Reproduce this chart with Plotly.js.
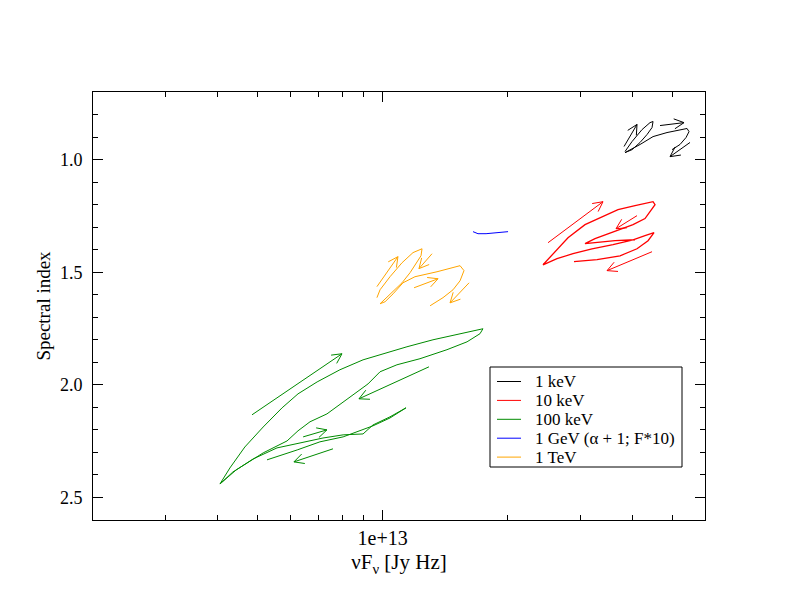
<!DOCTYPE html>
<html>
<head>
<meta charset="utf-8">
<script src="https://cdn.plot.ly/plotly-3.0.1.min.js"></script>
<style>html,body{margin:0;padding:0;background:#fff;}#chart{width:792px;height:612px;}</style>
</head>
<body>
<div id="chart"></div>
<script>
// Flux values in units of 1e12 Jy Hz, spectral index on y
const FLUX_UNIT = 1e12;

const seriesNames = ["1 keV", "10 keV", "100 keV", "1 GeV (\u03b1 + 1; F*10)", "1 TeV"];
const seriesColors = ["#000000", "#ff0000", "#008b00", "#0000ff", "#ffa500"];

const keV1_flux  = [38.47,40.00,42.28,44.20,44.95,44.70,43.47,41.82,40.00,38.47,41.82,44.95,48.58,52.22,54.30,54.90,54.00,52.22,49.95];
const keV1_index = [0.964,0.920,0.867,0.836,0.831,0.858,0.889,0.924,0.956,0.969,0.933,0.898,0.880,0.867,0.862,0.876,0.902,0.933,0.956];

const keV10_flux  = [28.97,32.93,37.42,41.12,43.72,45.20,42.99,40.22,35.99,32.02,28.81,26.36,24.39,26.07,28.02,30.80,33.85,37.00,40.67,44.95,45.45,44.45,42.99,40.22,35.99,32.56,30.80,32.20,36.39,40.67];
const keV10_index = [1.453,1.444,1.427,1.396,1.360,1.324,1.338,1.356,1.378,1.396,1.418,1.440,1.467,1.409,1.347,1.289,1.253,1.222,1.204,1.187,1.200,1.227,1.262,1.289,1.320,1.351,1.373,1.369,1.360,1.356];

const keV100_flux  = [4.05,4.28,4.65,5.15,5.72,6.25,6.95,7.89,8.97,10.02,11.45,13.23,15.12,17.47,
                      17.18,15.99,14.30,12.31,10.83,9.86,9.22,8.48,7.89,7.34,6.68,6.25,5.88,5.15,4.71,4.35,4.05,
                      4.43,4.87,5.56,6.32,7.18,8.03,8.97,9.48,10.42,11.39,
                      10.89,10.42,9.48,8.03,7.06,6.22,5.26];
const keV100_index = [2.440,2.369,2.276,2.187,2.102,2.040,1.987,1.933,1.889,1.862,1.831,1.800,1.778,1.751,
                      1.773,1.809,1.844,1.884,1.911,1.942,1.996,2.044,2.084,2.129,2.164,2.204,2.249,2.302,2.347,2.387,2.440,
                      2.378,2.329,2.280,2.258,2.236,2.222,2.218,2.178,2.142,2.102,
                      2.124,2.147,2.182,2.231,2.253,2.289,2.333];

const GeV1_flux  = [16.53,16.99,17.77,18.78,20.08];
const GeV1_index = [1.320,1.329,1.329,1.324,1.320];

const TeV1_flux  = [9.69,9.86,10.42,11.14,11.84,12.45,12.38,12.04,11.65,11.14,10.54,10.08,9.86,10.14,10.60,11.20,11.97,13.53,15.38,15.72,15.38,14.79,13.99,13.02];
const TeV1_index = [1.613,1.578,1.520,1.458,1.413,1.396,1.427,1.462,1.502,1.547,1.591,1.622,1.640,1.631,1.596,1.547,1.520,1.498,1.471,1.493,1.538,1.578,1.613,1.649];

// Direction arrows: tail -> head
const keV1_arrow_tail_flux = [38.26,46.73,55.21], keV1_arrow_tail_index = [0.942,0.849,0.924];
const keV1_arrow_head_flux = [41.12,53.40,49.40], keV1_arrow_head_index = [0.844,0.836,0.987];
const keV10_arrow_tail_flux = [25.08,41.12,44.70], keV10_arrow_tail_index = [1.369,1.249,1.409];
const keV10_arrow_head_flux = [34.04,36.59,34.81], keV10_arrow_head_index = [1.187,1.307,1.493];
const keV100_arrow_tail_flux = [4.84,12.94,6.43,7.59], keV100_arrow_tail_index = [2.133,1.920,2.231,2.284];
const keV100_arrow_head_flux = [7.98,8.77,7.34,6.11], keV100_arrow_head_index = [1.862,2.062,2.200,2.342];
const TeV1_arrow_tail_flux = [9.69,13.16,11.91,16.17], TeV1_arrow_tail_index = [1.564,1.418,1.569,1.547];
const TeV1_arrow_head_flux = [10.89,12.24,13.61,14.55], TeV1_arrow_head_index = [1.431,1.484,1.529,1.636];

const xMajorTicks = [1e13];
const xMajorLabels = ["1e+13"];
const xMinorTicks = [3e12,4e12,5e12,6e12,7e12,8e12,9e12,2e13,3e13,4e13,5e13];

// ---- geometry helpers ----
const ML = 93, MR = 87, MT = 92, MB = 92;
const W = 792 - ML - MR, H = 612 - MT - MB;
const XR = [Math.log10(2e12), Math.log10(6e13)];
const YR = [2.6, 0.7];
function toPx(x, y){ return [(Math.log10(x)-XR[0])/(XR[1]-XR[0])*W, (y-YR[1])/(YR[0]-YR[1])*H]; }
function fromPx(X, Y){ return [Math.pow(10, XR[0] + X/W*(XR[1]-XR[0])), YR[1] + Y/H*(YR[0]-YR[1])]; }
function paperX(px){ return (px - ML)/W; }
function paperY(py){ return (612 - MB - py)/H; }

function arrowTrace(tx, ty, hx, hy, color){
  const xs = [], ys = [];
  const L = 11, ang = 27*Math.PI/180;
  for (let i=0;i<tx.length;i++){
    const t = [tx[i]*FLUX_UNIT, ty[i]], h = [hx[i]*FLUX_UNIT, hy[i]];
    const p0 = toPx(t[0], t[1]), p1 = toPx(h[0], h[1]);
    let dx = p0[0]-p1[0], dy = p0[1]-p1[1];
    const n = Math.hypot(dx, dy); dx/=n; dy/=n;
    const r1 = [p1[0] + L*(dx*Math.cos(ang) - dy*Math.sin(ang)), p1[1] + L*(dx*Math.sin(ang) + dy*Math.cos(ang))];
    const r2 = [p1[0] + L*(dx*Math.cos(-ang) - dy*Math.sin(-ang)), p1[1] + L*(dx*Math.sin(-ang) + dy*Math.cos(-ang))];
    const a = fromPx(r1[0], r1[1]), b = fromPx(r2[0], r2[1]);
    xs.push(t[0], h[0], null, a[0], h[0], b[0], null);
    ys.push(t[1], h[1], null, a[1], h[1], b[1], null);
  }
  return {x: xs, y: ys, mode: 'lines', type: 'scatter', line: {color: color, width: 1}, showlegend: false, hoverinfo: 'skip'};
}

const seriesFlux = [keV1_flux, keV10_flux, keV100_flux, GeV1_flux, TeV1_flux];
const seriesIndex = [keV1_index, keV10_index, keV100_index, GeV1_index, TeV1_index];

const traces = seriesNames.map((nm, i) => ({
  x: seriesFlux[i].map(v => v*FLUX_UNIT), y: seriesIndex[i],
  name: nm, mode: 'lines', type: 'scatter', showlegend: false,
  line: {color: seriesColors[i], width: i===1 ? 1.3 : 1}
}));

traces.push(arrowTrace(keV1_arrow_tail_flux, keV1_arrow_tail_index, keV1_arrow_head_flux, keV1_arrow_head_index, seriesColors[0]));
traces.push(arrowTrace(keV10_arrow_tail_flux, keV10_arrow_tail_index, keV10_arrow_head_flux, keV10_arrow_head_index, seriesColors[1]));
traces.push(arrowTrace(keV100_arrow_tail_flux, keV100_arrow_tail_index, keV100_arrow_head_flux, keV100_arrow_head_index, seriesColors[2]));
traces.push(arrowTrace(TeV1_arrow_tail_flux, TeV1_arrow_tail_index, TeV1_arrow_head_flux, TeV1_arrow_head_index, seriesColors[4]));

const FONT = "Liberation Serif, Times New Roman, serif";

// ---- legend box (drawn in paper coordinates) ----
const LEG = {left: 490, top: 367, right: 682, bottom: 467, row0: 381.5, rowStep: 18.9, lineX0: 497, lineX1: 521, textX: 533};
const shapes = [{
  type: 'rect', xref: 'paper', yref: 'paper',
  x0: paperX(LEG.left), x1: paperX(LEG.right), y0: paperY(LEG.bottom), y1: paperY(LEG.top),
  line: {color: '#000', width: 1}, fillcolor: '#fff', layer: 'above'
}];
const annotations = [];
seriesNames.forEach((nm, i) => {
  const py = LEG.row0 + i*LEG.rowStep;
  shapes.push({type: 'line', xref: 'paper', yref: 'paper',
    x0: paperX(LEG.lineX0), x1: paperX(LEG.lineX1), y0: paperY(py), y1: paperY(py),
    line: {color: seriesColors[i], width: 1}, layer: 'above'});
  annotations.push({xref: 'paper', yref: 'paper', x: paperX(LEG.textX), y: paperY(py),
    xanchor: 'left', yanchor: 'middle', text: nm, showarrow: false,
    font: {family: FONT, size: 17, color: '#000'}});
});

const layout = {
  width: 792, height: 612,
  margin: {l: ML, r: MR, t: MT, b: MB},
  paper_bgcolor: '#fff', plot_bgcolor: '#fff',
  font: {family: FONT, color: '#000', size: 18},
  showlegend: false,
  shapes: shapes,
  annotations: annotations,
  xaxis: {
    type: 'log', range: XR,
    tickmode: 'array', tickvals: xMajorTicks, ticktext: xMajorLabels,
    ticks: 'inside', ticklen: 10, tickwidth: 1, tickcolor: '#000',
    showline: true, linecolor: '#000', linewidth: 1, mirror: 'ticks',
    showgrid: false, zeroline: false,
    tickfont: {family: FONT, size: 20},
    minor: {tickmode: 'array', tickvals: xMinorTicks, ticks: 'inside', ticklen: 5, tickwidth: 1, tickcolor: '#000', showgrid: false},
    title: {text: '\u03bdF<sub>\u03bd</sub> [Jy Hz]', font: {family: FONT, size: 21}, standoff: 6}
  },
  yaxis: {
    range: YR,
    tickmode: 'linear', tick0: 0, dtick: 0.5, tickformat: '.1f',
    ticks: 'inside', ticklen: 10, tickwidth: 1, tickcolor: '#000',
    showline: true, linecolor: '#000', linewidth: 1, mirror: 'ticks',
    showgrid: false, zeroline: false,
    tickfont: {family: FONT, size: 18},
    ticklabelstandoff: 6,
    minor: {tick0: 0, dtick: 0.1, ticks: 'inside', ticklen: 5, tickwidth: 1, tickcolor: '#000', showgrid: false},
    title: {text: 'Spectral index', font: {family: FONT, size: 19}, standoff: 4}
  }
};

Plotly.newPlot('chart', traces, layout, {displayModeBar: false, staticPlot: true});
</script>
</body>
</html>
